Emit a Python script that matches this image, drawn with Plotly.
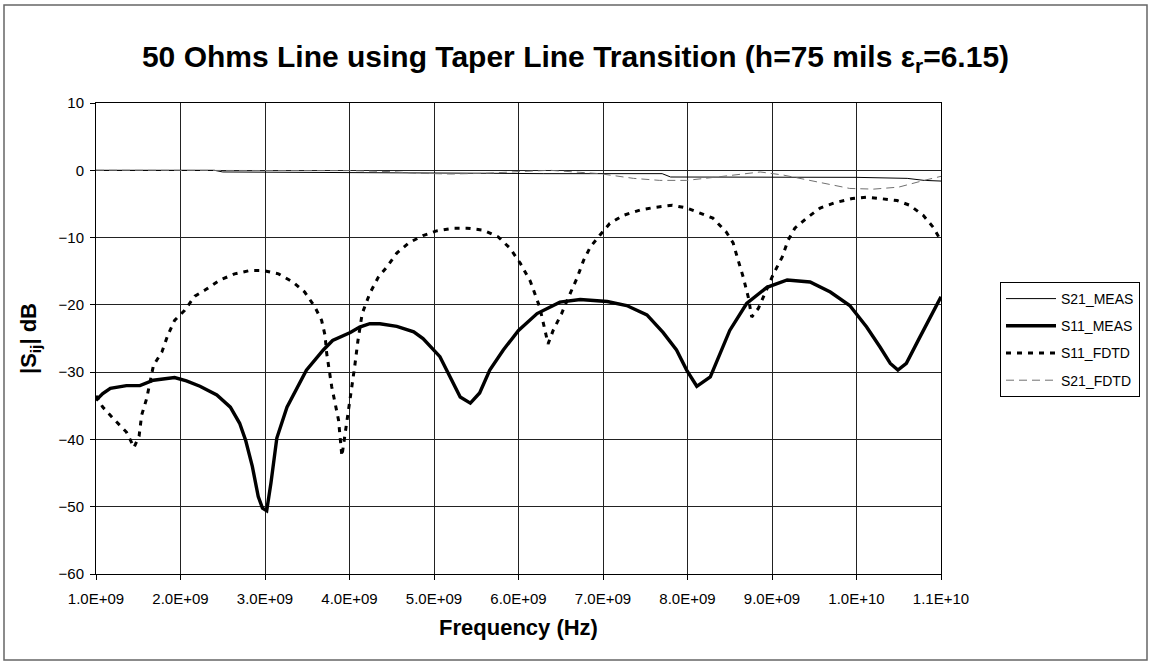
import plotly.graph_objects as go

# ---------------- data (frequencies in GHz, values in dB) ----------------
s21_meas_f = [1.0, 2.4, 2.5, 4.0, 5.0, 5.7, 6.3, 7.7, 7.8, 9.0, 10.0, 10.6, 10.8, 11.0]
s21_meas_db = [0.0, 0.0, -0.25, -0.3, -0.35, -0.45, -0.5, -0.5, -1.0, -1.0, -1.05, -1.2, -1.5, -1.6]

s11_meas_f = [1.00, 1.08, 1.17, 1.36, 1.52, 1.68, 1.93, 2.07, 2.23, 2.43, 2.59, 2.70, 2.77,
              2.85, 2.92, 2.97, 3.02, 3.07, 3.14, 3.26, 3.49, 3.69, 3.80, 4.01, 4.12, 4.24,
              4.36, 4.56, 4.76, 4.87, 5.07, 5.19, 5.31, 5.43, 5.54, 5.66, 5.82, 6.00, 6.22,
              6.49, 6.73, 7.05, 7.28, 7.52, 7.71, 7.87, 7.99, 8.11, 8.27, 8.50, 8.70, 8.94,
              9.18, 9.45, 9.69, 9.92, 10.12, 10.28, 10.40, 10.49, 10.59, 10.75, 10.91, 11.00]
s11_meas_db = [-34.2, -33.2, -32.4, -32.0, -32.0, -31.2, -30.8, -31.3, -32.1, -33.4, -35.2, -37.6, -40.1,
               -44.0, -48.5, -50.2, -50.6, -46.5, -39.8, -35.2, -29.7, -26.7, -25.3, -24.1, -23.3, -22.8,
               -22.8, -23.2, -24.0, -25.0, -27.7, -30.7, -33.7, -34.6, -33.1, -29.7, -26.7, -23.8, -21.3,
               -19.6, -19.2, -19.5, -20.1, -21.5, -24.1, -26.7, -29.7, -32.1, -30.7, -23.8, -19.8, -17.4,
               -16.3, -16.6, -18.1, -20.1, -23.3, -26.3, -28.7, -29.7, -28.7, -24.8, -20.8, -18.8]

s11_fdtd_f = [1.00, 1.08, 1.22, 1.36, 1.45, 1.51, 1.54, 1.60, 1.68, 1.78, 1.85, 1.93, 2.05, 2.17,
              2.29, 2.47, 2.64, 2.82, 2.98, 3.16, 3.33, 3.47, 3.59, 3.67, 3.71, 3.73, 3.79, 3.83,
              3.87, 3.91, 3.95, 3.98, 4.03, 4.06, 4.10, 4.15, 4.24, 4.34, 4.44, 4.56, 4.70, 4.87,
              5.03, 5.23, 5.39, 5.58, 5.76, 5.90, 6.02, 6.14, 6.25, 6.35, 6.41, 6.51, 6.59, 6.69,
              6.77, 6.85, 6.96, 7.08, 7.24, 7.44, 7.62, 7.82, 7.99, 8.15, 8.30, 8.46, 8.54, 8.60,
              8.66, 8.72, 8.76, 8.84, 8.92, 9.01, 9.12, 9.19, 9.27, 9.41, 9.57, 9.75, 9.95, 10.12,
              10.28, 10.48, 10.63, 10.79, 10.91, 11.00]
s11_fdtd_db = [-33.5, -35.2, -37.1, -38.9, -41.2, -39.5, -36.4, -33.9, -29.0, -27.0, -24.5, -22.3, -20.8, -18.7,
               -17.8, -16.3, -15.4, -14.9, -14.9, -15.4, -16.6, -18.1, -20.3, -22.3, -24.5, -27.2, -32.2, -34.9,
               -37.1, -42.5, -39.1, -36.7, -31.9, -29.3, -25.3, -21.3, -18.3, -15.9, -14.4, -12.3, -10.8, -9.7,
               -9.0, -8.6, -8.6, -8.9, -9.9, -11.6, -13.8, -16.5, -20.3, -25.8, -23.8, -21.3, -18.9, -16.1,
               -13.4, -11.4, -9.7, -7.9, -6.7, -5.9, -5.5, -5.2, -5.6, -6.4, -7.1, -9.2, -10.8, -13.4,
               -15.9, -18.9, -21.8, -20.5, -18.1, -15.6, -12.9, -10.4, -8.6, -7.1, -5.6, -4.8, -4.2, -4.0,
               -4.2, -4.5, -5.2, -6.7, -8.5, -10.5]

s21_fdtd_f = [1.0, 3.0, 4.0, 4.5, 4.8, 5.2, 5.6, 6.0, 6.37, 6.96, 7.36, 7.67, 7.99, 8.35, 8.86,
              9.13, 9.53, 9.92, 10.2, 10.5, 10.8, 11.0]
s21_fdtd_db = [0.0, 0.0, -0.05, -0.2, -0.45, -0.55, -0.45, -0.2, 0.0, -0.5, -1.2, -1.5, -1.5, -1.0, -0.25,
               -0.7, -1.7, -2.7, -2.8, -2.5, -1.5, -0.9]

x_tick_vals = [1e9, 2e9, 3e9, 4e9, 5e9, 6e9, 7e9, 8e9, 9e9, 1e10, 1.1e10]
x_tick_labels = ["1.0E+09", "2.0E+09", "3.0E+09", "4.0E+09", "5.0E+09", "6.0E+09",
                 "7.0E+09", "8.0E+09", "9.0E+09", "1.0E+10", "1.1E+10"]
y_tick_vals = [10, 0, -10, -20, -30, -40, -50, -60]

FONT = "Liberation Sans, Arial, sans-serif"


def hz(ghz_list):
    return [g * 1e9 for g in ghz_list]


fig = go.Figure()
fig.add_trace(go.Scatter(x=hz(s21_meas_f), y=s21_meas_db, name="S21_MEAS", mode="lines",
                         legendgroup="a", line=dict(color="black", width=1)))
fig.add_trace(go.Scatter(x=hz(s11_meas_f), y=s11_meas_db, name="S11_MEAS", mode="lines",
                         legendgroup="b", line=dict(color="black", width=3.4)))
fig.add_trace(go.Scatter(x=hz(s11_fdtd_f), y=s11_fdtd_db, name="S11_FDTD", mode="lines",
                         legendgroup="c", line=dict(color="black", width=3, dash="5px,6px")))
fig.add_trace(go.Scatter(x=hz(s21_fdtd_f), y=s21_fdtd_db, name="S21_FDTD", mode="lines",
                         legendgroup="d", line=dict(color="#707070", width=1, dash="8px,5px")))

fig.update_layout(
    width=1151, height=664,
    margin=dict(l=96, r=210, t=103, b=90, autoexpand=False),
    paper_bgcolor="white", plot_bgcolor="white",
    font=dict(family=FONT, color="black", size=14),
    title=dict(text="<b>50 Ohms Line using Taper Line Transition (h=75 mils ε<sub>r</sub>=6.15)</b>",
               x=0.5, xref="container", xanchor="center",
               y=1 - 56 / 664, yref="container", yanchor="middle",
               font=dict(family=FONT, size=30, color="black")),
    showlegend=True,
    legend=dict(x=(1000 - 96) / 845, xanchor="left", y=(574 - 282) / 471, yanchor="top",
                bordercolor="black", borderwidth=1, bgcolor="white",
                font=dict(family=FONT, size=14, color="black"),
                itemwidth=50,
                traceorder="grouped", tracegroupgap=6),
    xaxis=dict(range=[1e9, 1.1e10], tickvals=x_tick_vals, ticktext=x_tick_labels,
               showgrid=True, gridcolor="#222", gridwidth=1,
               showline=True, linecolor="black", linewidth=1, mirror=True,
               ticks="outside", ticklen=5, tickcolor="black", ticklabelstandoff=6,
               zeroline=False, tickfont=dict(size=15),
               title=dict(text="<b>Frequency (Hz)</b>", font=dict(size=22), standoff=13)),
    yaxis=dict(range=[-60, 10], tickvals=y_tick_vals,
               showgrid=True, gridcolor="#222", gridwidth=1,
               showline=True, linecolor="black", linewidth=1, mirror=True,
               ticks="outside", ticklen=5, tickcolor="black", ticklabelstandoff=3,
               zeroline=False, tickfont=dict(size=15),
               title=dict(text="<b>|S<sub>ij</sub>| dB</b>", font=dict(size=22), standoff=15)),
    shapes=[dict(type="rect", xref="paper", yref="paper",
                 x0=(4 - 96) / 845, x1=(1147 - 96) / 845,
                 y0=(574 - 660) / 471, y1=(574 - 5) / 471,
                 line=dict(color="#666", width=1.5), layer="below")],
)

fig.write_html("out.html")
